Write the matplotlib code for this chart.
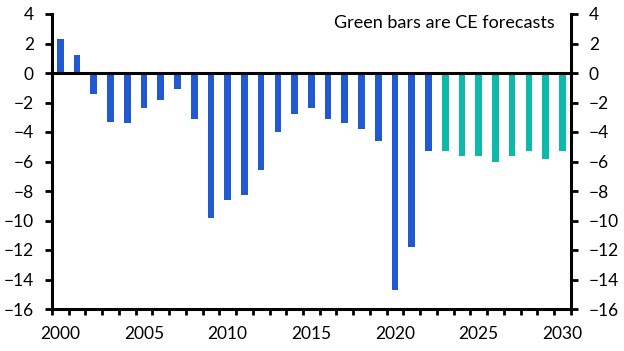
import matplotlib
matplotlib.use("Agg")
import matplotlib.pyplot as plt

years = list(range(2000, 2031))
values = [2.3, 1.2, -1.4, -3.3, -3.4, -2.4, -1.8, -1.1, -3.1, -9.8,
          -8.6, -8.3, -6.6, -4.0, -2.8, -2.4, -3.1, -3.4, -3.8, -4.6,
          -14.7, -11.8, -5.3, -5.3, -5.6, -5.6, -6.0, -5.6, -5.3, -5.8, -5.3]
forecast_start = 2023
blue = "#215AD0"
green = "#0DB9AA"
colors = [green if y >= forecast_start else blue for y in years]

yticks = list(range(-16, 5, 2))
xlabels = [2000, 2005, 2010, 2015, 2020, 2025, 2030]
note = "Green bars are CE forecasts"

plt.rcParams['font.family'] = ['Lato', 'DejaVu Sans']
fig = plt.figure(figsize=(6.24, 3.51), dpi=100)
ax = fig.add_axes([52/624, 1-309/351, (570.7-52)/624, (309-14)/351])
ax.bar(years, values, width=0.4, color=colors, zorder=2)
ax.axhline(0, color="black", lw=2.2, zorder=3)
ax.set_xlim(1999.5, 2030.5)
ax.set_ylim(-16, 4)
ax.set_yticks(yticks)
ax.set_xticks(xlabels)
ax.set_xticks([y - 0.5 for y in years] + [2030.5], minor=True)
ax.tick_params(axis='x', which='major', length=0, labelsize=12.5, pad=12)
ax.tick_params(axis='x', which='minor', length=4, width=2, direction='out')
ax.tick_params(axis='y', which='major', length=5, width=2, labelsize=12.5,
               left=True, right=True, labelleft=True, labelright=True, pad=8)
for s in ['left', 'right', 'bottom']:
    ax.spines[s].set_linewidth(2.2)
ax.spines['top'].set_visible(False)
ax.text(0.97, 0.995, note, transform=ax.transAxes, ha='right', va='top', fontsize=13)
fig.savefig("out.png", dpi=100)
